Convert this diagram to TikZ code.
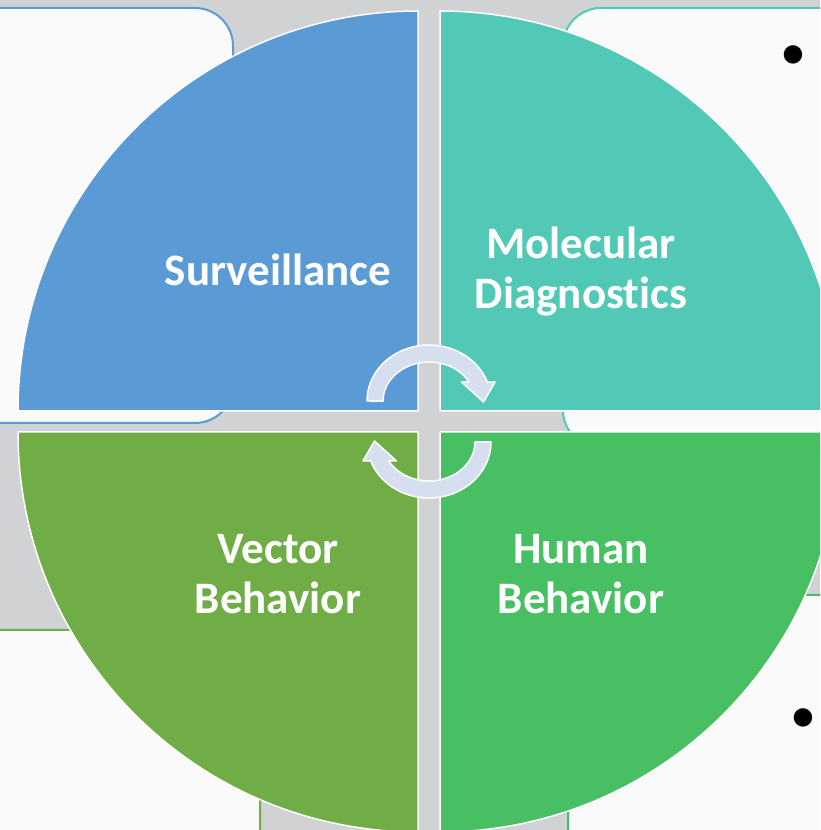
\documentclass[tikz,border=0pt]{standalone}
\usepackage{fontspec}
\setmainfont{Carlito}[Ligatures=NoCommon]
\definecolor{qblue}{HTML}{5B9BD5}
\definecolor{qteal}{HTML}{52C9B6}
\definecolor{qolive}{HTML}{70AD47}
\definecolor{qgreen}{HTML}{48BF63}
\definecolor{bggray}{HTML}{D1D2D4}
\definecolor{boxwhite}{HTML}{FAFAFA}
\definecolor{cycfill}{HTML}{D6DFEF}
\begin{document}
\begin{tikzpicture}[x=1pt,y=1pt,line join=round,
		box/.style={fill=boxwhite,draw=#1,line width=2pt,rounded corners=38pt},
		quarter/.style={fill=#1,draw=white,line width=1.5pt},
		lbl/.style={text=white,align=center,inner sep=0pt,font=\fontsize{45}{50}\selectfont\bfseries},
		dot/.style={inner sep=0pt,font=\fontsize{52}{56}\selectfont},
		cyc/.style={fill=cycfill,draw=white,line width=1.5pt}]
	\useasboundingbox (0,0) rectangle (820,830);
	\clip (0,0) rectangle (820,830);
	\fill[bggray] (0,0) rectangle (820,830);
	% boxes behind the circle
	\draw[box=qblue] (-40,407) rectangle (233,822);
	\draw[box=qteal] (563,382) rectangle (860,822);
	\draw[box=qolive] (-40,-40) rectangle (260,200);
	\draw[box=qgreen] (568,-40) rectangle (860,235);
	\node[dot] (bulletTR) at (793,772) {•};
	\node[dot] (bulletBR) at (803,109) {•};
	% four quarters
	\foreach \cx/\cy/\a/\col in {418/419/90/qblue,440/419/0/qteal,418/398/180/qolive,440/398/270/qgreen}{
		\draw[quarter=\col] (\cx,\cy) -- ++(\a:400) arc (\a:\a+90:400) -- cycle;
	}
	% cycle arrows
	\foreach \cy/\r in {429/0,388/180}{
		\draw[cyc,shift={(429,\cy)},rotate=\r] (-62,0)
			arc[start angle=180,end angle=19.8,x radius=62,y radius=56]
			-- (66,19) -- (54.5,-1) -- (32.5,19) -- (40.2,19)
			arc[start angle=29.2,end angle=180,x radius=46,y radius=39] -- cycle;
	}
	\node[lbl] (surv) at (278,560) {Surveillance};
	\node[lbl] (moldiag) at (581,558) {Molecular\\Diagnostics};
	\node[lbl] (vecbeh) at (278,256) {Vector\\Behavior};
	\node[lbl] (humbeh) at (581,256) {Human\\Behavior};
\end{tikzpicture}
\end{document}
